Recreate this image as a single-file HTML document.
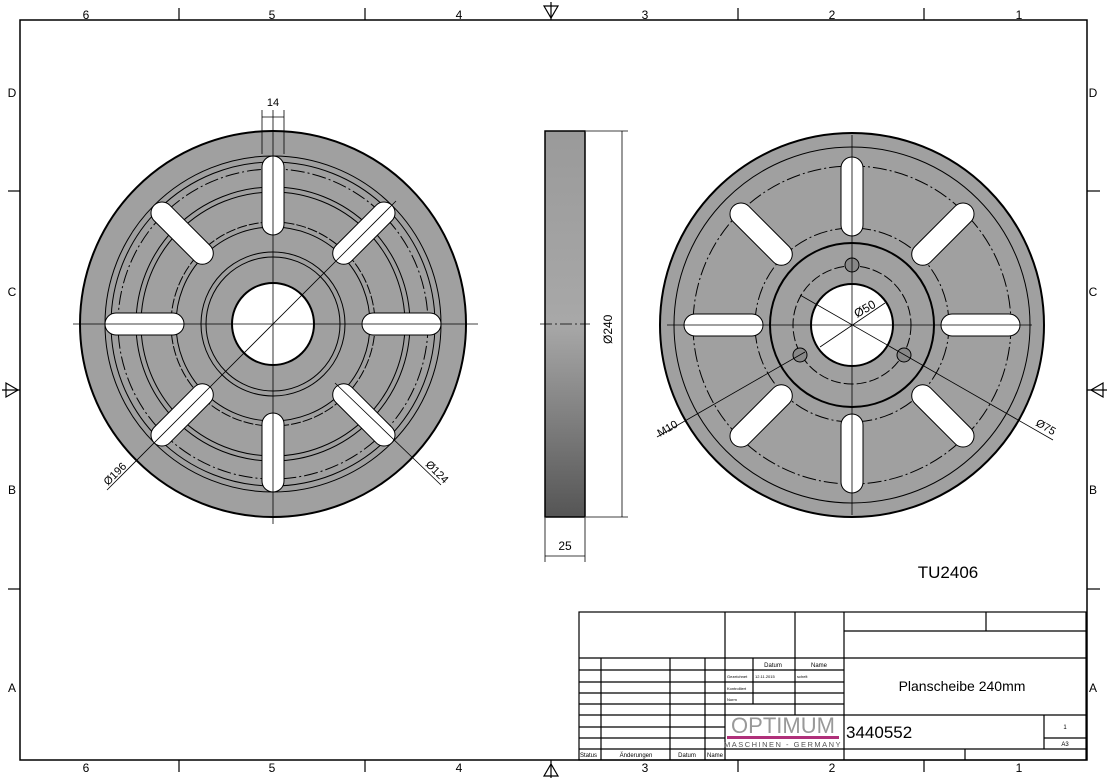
<!DOCTYPE html>
<html><head><style>body{margin:0;background:#fff}svg{display:block}text{font-family:"Liberation Sans",sans-serif;fill:#000}</style></head><body>
<svg width="1109" height="779" viewBox="0 0 1109 779" xmlns="http://www.w3.org/2000/svg">
<defs>
<linearGradient id="g" x1="0" y1="0" x2="0" y2="1"><stop offset="0" stop-color="#9a9a9a"/><stop offset="0.5" stop-color="#a8a8a8"/><stop offset="1" stop-color="#555"/></linearGradient>
</defs>
<rect x="20" y="20" width="1067" height="740" fill="none" stroke="#000" stroke-width="1.5"/>
<g stroke="#000" stroke-width="1.2">
<line x1="179" y1="8" x2="179" y2="20"/><line x1="365" y1="8" x2="365" y2="20"/><line x1="738" y1="8" x2="738" y2="20"/><line x1="924" y1="8" x2="924" y2="20"/>
<line x1="179" y1="760" x2="179" y2="772"/><line x1="365" y1="760" x2="365" y2="772"/><line x1="738" y1="760" x2="738" y2="772"/><line x1="924" y1="760" x2="924" y2="772"/>
<line x1="8" y1="191" x2="20" y2="191"/><line x1="8" y1="589" x2="20" y2="589"/><line x1="1087" y1="191" x2="1100" y2="191"/><line x1="1087" y1="589" x2="1100" y2="589"/>
<line x1="551" y1="2" x2="551" y2="20"/><line x1="551" y1="760" x2="551" y2="778"/><line x1="2" y1="390" x2="20" y2="390"/><line x1="1087" y1="390" x2="1107" y2="390"/>
</g>
<g fill="none" stroke="#000" stroke-width="1.2">
<path d="M544 6 L558 6 L551 18 Z"/><path d="M544 776 L558 776 L551 764 Z"/>
<path d="M6 383 L6 397 L18 390 Z"/><path d="M1103 383 L1103 397 L1091 390 Z"/>
</g>
<g font-size="12" text-anchor="middle">
<text x="86" y="19">6</text><text x="272" y="19">5</text><text x="459" y="19">4</text><text x="645" y="19">3</text><text x="832" y="19">2</text><text x="1019" y="19">1</text>
<text x="86" y="772">6</text><text x="272" y="772">5</text><text x="459" y="772">4</text><text x="645" y="772">3</text><text x="832" y="772">2</text><text x="1019" y="772">1</text>
<text x="12" y="97">D</text><text x="12" y="296">C</text><text x="12" y="494">B</text><text x="12" y="692">A</text>
<text x="1093" y="97">D</text><text x="1093" y="296">C</text><text x="1093" y="494">B</text><text x="1093" y="692">A</text>
</g>

<!-- Left view -->
<g transform="translate(273,324)">
<circle r="193" fill="#a0a0a0" stroke="#000" stroke-width="2"/>
<g fill="none" stroke="#000" stroke-width="1">
<circle r="168"/><circle r="162"/><circle r="155" stroke-dasharray="14 3 2 3"/><circle r="137"/><circle r="132"/><circle r="102" stroke-dasharray="10 2"/><circle r="97"/><circle r="72"/><circle r="67"/>
</g>
<circle r="41" fill="#fff" stroke="#000" stroke-width="2"/>
<g fill="#fff" stroke="#000" stroke-width="1">
<rect x="89" y="-11" width="79" height="22" rx="11"/>
<rect x="89" y="-11" width="79" height="22" rx="11" transform="rotate(45)"/>
<rect x="89" y="-11" width="79" height="22" rx="11" transform="rotate(90)"/>
<rect x="89" y="-11" width="79" height="22" rx="11" transform="rotate(135)"/>
<rect x="89" y="-11" width="79" height="22" rx="11" transform="rotate(180)"/>
<rect x="89" y="-11" width="79" height="22" rx="11" transform="rotate(225)"/>
<rect x="89" y="-11" width="79" height="22" rx="11" transform="rotate(270)"/>
<rect x="89" y="-11" width="79" height="22" rx="11" transform="rotate(315)"/>
</g>
<g stroke="#000" stroke-width="0.8">
<line x1="-200" y1="0" x2="205" y2="0"/><line x1="0" y1="-214" x2="0" y2="200"/>
<line x1="-11" y1="-214" x2="-11" y2="-170"/><line x1="11" y1="-214" x2="11" y2="-170"/><line x1="-11" y1="-207" x2="11" y2="-207"/>
<line x1="-166" y1="166" x2="123" y2="-123"/>
<line x1="62" y1="59" x2="168" y2="161"/>
</g>
</g>
<text x="273" y="106" font-size="11" text-anchor="middle">14</text>
<text font-size="11" transform="translate(108,486) rotate(-45)">Ø196</text>
<text font-size="11" transform="translate(425,465) rotate(45)">Ø124</text>

<!-- Side view -->
<rect x="545" y="131" width="40" height="386" fill="url(#g)" stroke="#000" stroke-width="1.5"/>
<g stroke="#000" stroke-width="0.8">
<line x1="540" y1="324" x2="590" y2="324" stroke-dasharray="12 3 2 3"/>
<line x1="586" y1="131" x2="628" y2="131"/><line x1="586" y1="517" x2="628" y2="517"/><line x1="622" y1="131" x2="622" y2="517"/>
<line x1="545" y1="518" x2="545" y2="562"/><line x1="585" y1="518" x2="585" y2="562"/><line x1="545" y1="556" x2="585" y2="556"/>
</g>
<text font-size="12" transform="translate(612,344) rotate(-90)">Ø240</text>
<text x="565" y="550" font-size="12" text-anchor="middle">25</text>

<!-- Right view -->
<g transform="translate(852,325)">
<circle r="192" fill="#a0a0a0" stroke="#000" stroke-width="2"/>
<g fill="none" stroke="#000" stroke-width="1">
<circle r="178"/><circle r="159" stroke-dasharray="14 3 2 3"/><circle r="97" stroke-dasharray="14 3 2 3"/><circle r="82" stroke-width="2"/><circle r="59" stroke-dasharray="10 3"/>
</g>
<circle r="41" fill="#fff" stroke="#000" stroke-width="2"/>
<g fill="#888" stroke="#000" stroke-width="1">
<circle cx="0" cy="-60" r="7"/><circle cx="-52" cy="30" r="7"/><circle cx="52" cy="30" r="7"/>
</g>
<g fill="#fff" stroke="#000" stroke-width="1">
<rect x="89" y="-11" width="79" height="22" rx="11"/>
<rect x="89" y="-11" width="79" height="22" rx="11" transform="rotate(45)"/>
<rect x="89" y="-11" width="79" height="22" rx="11" transform="rotate(90)"/>
<rect x="89" y="-11" width="79" height="22" rx="11" transform="rotate(135)"/>
<rect x="89" y="-11" width="79" height="22" rx="11" transform="rotate(180)"/>
<rect x="89" y="-11" width="79" height="22" rx="11" transform="rotate(225)"/>
<rect x="89" y="-11" width="79" height="22" rx="11" transform="rotate(270)"/>
<rect x="89" y="-11" width="79" height="22" rx="11" transform="rotate(315)"/>
</g>
<g stroke="#000" stroke-width="0.8">
<line x1="-185" y1="0" x2="180" y2="0"/><line x1="0" y1="-190" x2="0" y2="190"/>
<line x1="-52" y1="-30" x2="201" y2="115"/>
<line x1="-32" y1="22" x2="33" y2="-22"/>
<line x1="-195" y1="112" x2="-47" y2="27"/>
</g>
</g>
<text font-size="11" transform="translate(660,437) rotate(-30)">M10</text>
<text font-size="11" transform="translate(1035,425) rotate(30)">Ø75</text>
<text font-size="12" transform="translate(857,318) rotate(-30)">Ø50</text>

<text x="948" y="578" font-size="17" text-anchor="middle">TU2406</text>

<!-- Title block -->
<g stroke="#000" stroke-width="1.2" fill="none">
<rect x="579" y="612" width="507" height="148"/>
<line x1="725" y1="612" x2="725" y2="760"/><line x1="795" y1="612" x2="795" y2="715"/><line x1="844" y1="612" x2="844" y2="760"/>
<line x1="986" y1="612" x2="986" y2="631"/><line x1="844" y1="631" x2="1086" y2="631"/>
<line x1="579" y1="658" x2="1086" y2="658"/>
<line x1="601" y1="658" x2="601" y2="760"/><line x1="670" y1="658" x2="670" y2="760"/><line x1="705" y1="658" x2="705" y2="760"/>
<line x1="753" y1="658" x2="753" y2="704"/>
<line x1="579" y1="670" x2="844" y2="670"/><line x1="579" y1="682" x2="844" y2="682"/><line x1="579" y1="693" x2="844" y2="693"/><line x1="579" y1="704" x2="844" y2="704"/>
<line x1="579" y1="715" x2="1086" y2="715"/><line x1="579" y1="727" x2="725" y2="727"/><line x1="579" y1="738" x2="725" y2="738"/>
<line x1="1044" y1="715" x2="1044" y2="749"/><line x1="1044" y1="738" x2="1086" y2="738"/>
<line x1="579" y1="749" x2="1086" y2="749"/><line x1="965" y1="749" x2="965" y2="760"/>
</g>
<g font-size="6">
<text x="773" y="667" text-anchor="middle">Datum</text><text x="819" y="667" text-anchor="middle">Name</text>
<text x="727" y="678" font-size="4">Gezeichnet</text><text x="755" y="678" font-size="4">12.11.2015</text><text x="797" y="678" font-size="4">schelt</text>
<text x="727" y="690" font-size="4">Kontrolliert</text><text x="727" y="701" font-size="4">Norm</text>
<text x="580" y="757" font-size="6">Status</text><text x="636" y="757" text-anchor="middle">Änderungen</text><text x="687" y="757" text-anchor="middle">Datum</text><text x="715" y="757" text-anchor="middle">Name</text>
<text x="1065" y="729" text-anchor="middle">1</text><text x="1065" y="746" text-anchor="middle">A3</text>
</g>
<text x="962" y="691" font-size="14" text-anchor="middle" font-family="DejaVu Sans">Planscheibe 240mm</text>
<text x="846" y="738" font-size="17" font-family="DejaVu Sans">3440552</text>
<text x="783" y="733" font-size="22" text-anchor="middle" font-family="Liberation Serif" style="fill:#999">OPTIMUM</text>
<rect x="727" y="736" width="112" height="3" fill="#b0307a"/>
<text x="783" y="747" font-size="7.5" text-anchor="middle" font-family="Liberation Serif" letter-spacing="1.5" style="fill:#555">MASCHINEN - GERMANY</text>
</svg>
</body></html>
